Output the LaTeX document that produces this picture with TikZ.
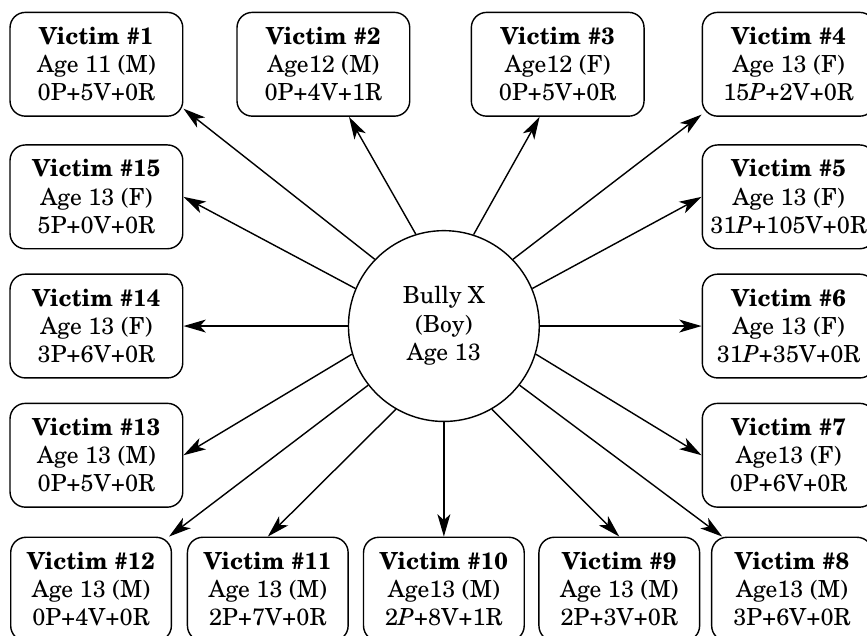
\documentclass[tikz,border=0pt]{standalone}
\usepackage[T1]{fontenc}
\usepackage{newcent}
\usetikzlibrary{arrows.meta}
\tikzset{
		victim/.style={draw,rounded corners=6.5pt,align=center,minimum width=2.58cm,minimum height=1.55cm,inner sep=2pt},
		lowvictim/.style={victim,minimum width=2.40cm},
		bully/.style={draw,circle,align=center,minimum size=2.85cm,inner sep=0pt},
		hit/.style={-{Stealth[length=9.5pt,width=5.5pt,inset=2.5pt]}},
		}
\newcommand{\vic}[3]{\textbf{Victim \##1}\\#2\\#3}

\begin{document}
\begin{tikzpicture}[line width=0.6pt]
					\clip (-6.63,-4.615) rectangle (6.32,4.87);
					%BULLY in the middle
					\node[bully](bx) at (0,0){Bully X\\(Boy)\\Age 13};
					%TOP ROW
					\node[victim](v1) at (-5.19,3.91){\vic{1}{Age 11 (M)}{0P+5V+0R}};
					\node[victim](v2) at (-1.80,3.91){\vic{2}{Age12 (M)}{0P+4V+1R}};
					\node[victim](v3) at (1.70,3.91){\vic{3}{Age12 (F)}{0P+5V+0R}};
					\node[victim](v4) at (5.15,3.91){\vic{4}{Age 13 (F)}{15\textit{P}+2V+0R}};
					%LEFT COLUMN
					\node[victim](v15) at (-5.19,1.93){\vic{15}{Age 13 (F)}{5P+0V+0R}};
					\node[victim](v14) at (-5.19,0){\vic{14}{Age 13 (F)}{3P+6V+0R}};
					\node[victim](v13) at (-5.19,-1.93){\vic{13}{Age 13 (M)}{0P+5V+0R}};
					%RIGHT COLUMN
					\node[victim](v5) at (5.15,1.93){\vic{5}{Age 13 (F)}{31\textit{P}+105V+0R}};
					\node[victim](v6) at (5.15,0){\vic{6}{Age 13 (F)}{31\textit{P}+35V+0R}};
					\node[victim](v7) at (5.15,-1.93){\vic{7}{Age13 (F)}{0P+6V+0R}};
					%BOTTOM ROW
					\node[lowvictim](v12) at (-5.27,-3.93){\vic{12}{Age 13 (M)}{0P+4V+0R}};
					\node[lowvictim](v11) at (-2.63,-3.93){\vic{11}{Age 13 (M)}{2P+7V+0R}};
					\node[lowvictim](v10) at (0,-3.93){\vic{10}{Age13 (M)}{2\textit{P}+8V+1R}};
					\node[lowvictim](v9) at (2.62,-3.93){\vic{9}{Age 13 (M)}{2P+3V+0R}};
					\node[lowvictim](v8) at (5.20,-3.93){\vic{8}{Age13 (M)}{3P+6V+0R}};
					%ARROWS
					\draw[hit] (bx.136) -- (v1.-27);
					\draw[hit] (bx.107.5) -- (v2.-64);
					\draw[hit] (bx.72.5) -- (v3.-109);
					\draw[hit] (bx.44) -- (v4.-150);
					\draw[hit] (bx.23) -- (v5.west);
					\draw[hit] (bx.0) -- (v6.west);
					\draw[hit] (bx.-17) -- (v7.west);
					\draw[hit] (bx.-38) -- (v8.143);
					\draw[hit] (bx.-60) -- (v9.north);
					\draw[hit] (bx.-90) -- (v10.north);
					\draw[hit] (bx.-120) -- (v11.north);
					\draw[hit] (bx.-142) -- (v12.34);
					\draw[hit] (bx.-163) -- (v13.east);
					\draw[hit] (bx.180) -- (v14.east);
					\draw[hit] (bx.157) -- (v15.east);
				\end{tikzpicture}
\end{document}
